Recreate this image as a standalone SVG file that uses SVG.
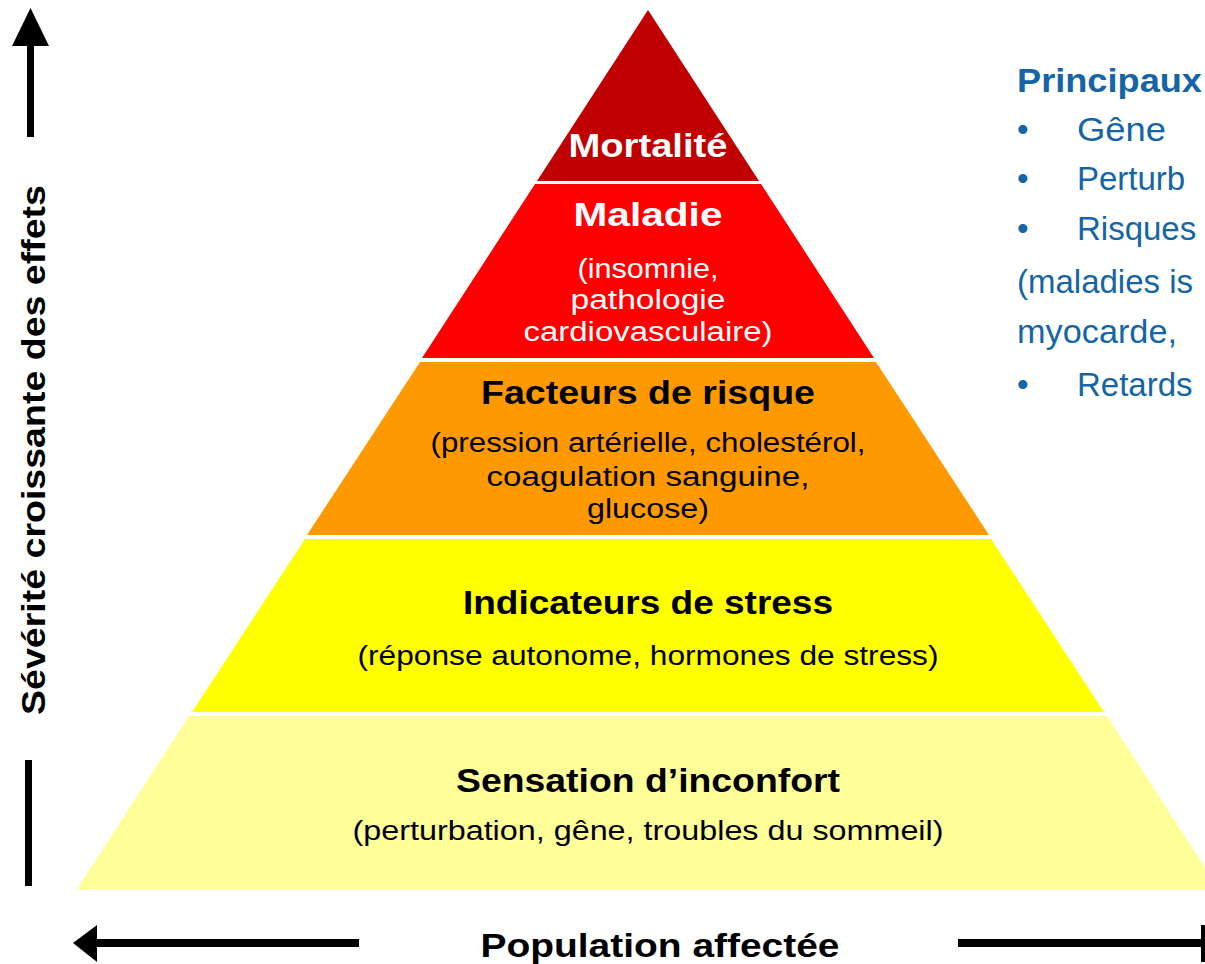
<svg xmlns="http://www.w3.org/2000/svg" width="1205" height="964" viewBox="0 0 1205 964">
<style>
.t{font-family:"Liberation Sans",Arial,sans-serif;font-weight:bold;font-size:33px;text-anchor:middle}
.s{font-family:"Liberation Sans",Arial,sans-serif;font-size:27px;text-anchor:middle}
.w{fill:#fff}
.k{fill:#000}
.b{font-family:"Liberation Sans",Arial,sans-serif;font-size:33px;fill:#1565A6}
</style>
<rect width="1205" height="964" fill="#fff"/>
<g id="mortalite">
<polygon points="648,10 759,181 537,181" fill="#C00000"/>
<text class="t w" x="648" y="157" textLength="159" lengthAdjust="spacingAndGlyphs">Mortalité</text>
</g>
<g id="maladie">
<polygon points="535,184 761,184 874,358 422,358" fill="#FF0000"/>
<text class="t w" x="648" y="226" textLength="149" lengthAdjust="spacingAndGlyphs">Maladie</text>
<text class="s w" x="648" y="278" textLength="141" lengthAdjust="spacingAndGlyphs">(insomnie,</text>
<text class="s w" x="648" y="309" textLength="155" lengthAdjust="spacingAndGlyphs">pathologie</text>
<text class="s w" x="648" y="341" textLength="249" lengthAdjust="spacingAndGlyphs">cardiovasculaire)</text>
</g>
<g id="facteurs">
<polygon points="420,362 876,362 989,535 307,535" fill="#FF9900"/>
<text class="t k" x="648" y="404" textLength="334" lengthAdjust="spacingAndGlyphs">Facteurs de risque</text>
<text class="s k" x="648" y="452" textLength="435" lengthAdjust="spacingAndGlyphs">(pression artérielle, cholestérol,</text>
<text class="s k" x="648" y="486" textLength="323" lengthAdjust="spacingAndGlyphs">coagulation sanguine,</text>
<text class="s k" x="648" y="518" textLength="122" lengthAdjust="spacingAndGlyphs">glucose)</text>
</g>
<g id="indicateurs">
<polygon points="305,539 991,539 1104,712 192,712" fill="#FFFF00"/>
<text class="t k" x="648" y="614" textLength="370" lengthAdjust="spacingAndGlyphs">Indicateurs de stress</text>
<text class="s k" x="648" y="665" textLength="581" lengthAdjust="spacingAndGlyphs">(réponse autonome, hormones de stress)</text>
</g>
<g id="sensation">
<polygon points="189,716 1107,716 1219,889 77,889" fill="#FFFF99"/>
<text class="t k" x="648" y="792" textLength="384" lengthAdjust="spacingAndGlyphs">Sensation d’inconfort</text>
<text class="s k" x="648" y="840" textLength="591" lengthAdjust="spacingAndGlyphs">(perturbation, gêne, troubles du sommeil)</text>
</g>
<g id="legende">
<text class="b" x="1017" y="92" font-weight="bold" textLength="185" lengthAdjust="spacingAndGlyphs">Principaux</text>
<text class="b" x="1017" y="141">•</text><text class="b" x="1077" y="141" textLength="89" lengthAdjust="spacingAndGlyphs">Gêne</text>
<text class="b" x="1017" y="190">•</text><text class="b" x="1077" y="190">Perturb</text>
<text class="b" x="1017" y="240">•</text><text class="b" x="1077" y="240">Risques</text>
<text class="b" x="1017" y="293">(maladies is</text>
<text class="b" x="1017" y="343" textLength="160" lengthAdjust="spacingAndGlyphs">myocarde,</text>
<text class="b" x="1017" y="396">•</text><text class="b" x="1077" y="396">Retards</text>
</g>
<g id="axes">
<rect x="27" y="45" width="7" height="92" fill="#000"/>
<polygon points="30.5,8 49,46 12,46" fill="#000"/>
<rect x="25" y="760" width="7" height="126" fill="#000"/>
<text class="t k" transform="translate(45,450) rotate(-90)" textLength="530" lengthAdjust="spacingAndGlyphs">Sévérité croissante des effets</text>
<rect x="95" y="939" width="264" height="8" fill="#000"/>
<polygon points="73,943 97,925 97,962" fill="#000"/>
<rect x="958" y="939" width="247" height="8" fill="#000"/>
<rect x="1201" y="925" width="4" height="37" fill="#000"/>
<text class="t k" x="660" y="957" textLength="359" lengthAdjust="spacingAndGlyphs">Population affectée</text>
</g>
</svg>
